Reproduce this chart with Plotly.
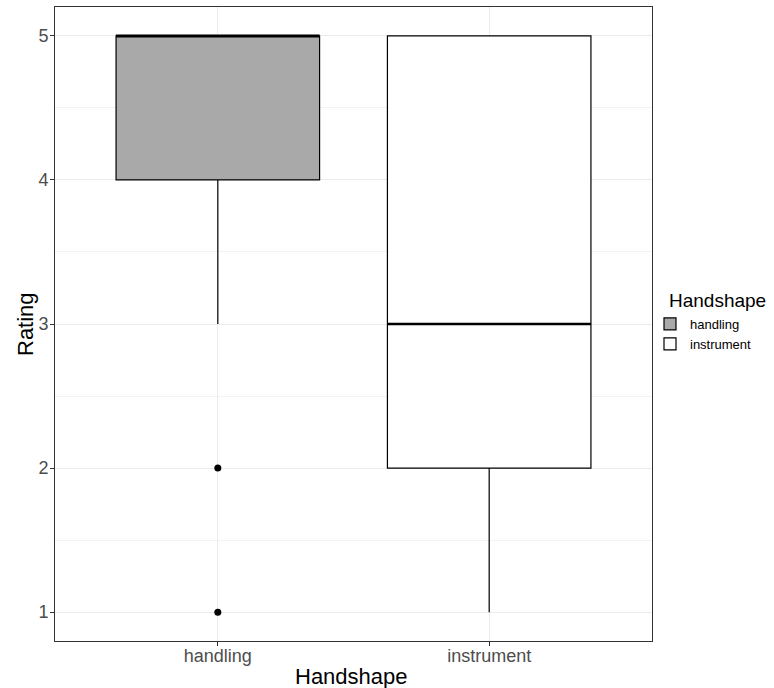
import plotly.graph_objects as go

categories = ["handling", "instrument"]
q1 = [4, 2]
median = [5, 3]
q3 = [5, 5]
lower = [3, 1]
upper = [5, 5]
fills = ["#A9A9A9", "#FFFFFF"]
outlier_cat = ["handling", "handling"]
outlier_val = [2, 1]
yticks = [1, 2, 3, 4, 5]

pos = {c: i + 1 for i, c in enumerate(categories)}
bw = 0.75

W, H = 774, 688
L, R, T, B = 55, 122, 7, 47
PW, PH = W - L - R, H - T - B

def px_x(p):
    return (p - L) / PW

def px_y(p):
    return (H - B - p) / PH

fig = go.Figure()
for i, c in enumerate(categories):
    fig.add_trace(go.Box(
        x=[pos[c]], q1=[q1[i]], median=[median[i]], q3=[q3[i]],
        lowerfence=[lower[i]], upperfence=[upper[i]],
        name=c, fillcolor=fills[i], line=dict(color="black", width=1.2),
        whiskerwidth=0, width=bw, boxpoints=False, showlegend=True,
    ))
    # thicker median line (ggplot fatten)
    fig.add_trace(go.Scatter(
        x=[pos[c] - bw / 2, pos[c] + bw / 2], y=[median[i], median[i]],
        mode="lines", line=dict(color="black", width=2.4),
        showlegend=False, hoverinfo="skip",
    ))

fig.add_trace(go.Scatter(
    x=[pos[c] for c in outlier_cat], y=outlier_val, mode="markers",
    marker=dict(color="black", size=7), showlegend=False,
))

# legend title
fig.add_annotation(
    text="Handshape", xref="paper", yref="paper",
    x=px_x(667), y=px_y(300), xanchor="left", yanchor="middle",
    showarrow=False, font=dict(size=19, color="black"),
)
# axis titles
fig.add_annotation(
    text="Handshape", xref="paper", yref="paper",
    x=px_x(351), y=px_y(676), xanchor="center", yanchor="middle",
    showarrow=False, font=dict(size=22, color="black"),
)
fig.add_annotation(
    text="Rating", xref="paper", yref="paper", textangle=-90,
    x=px_x(25), y=px_y(324), xanchor="center", yanchor="middle",
    showarrow=False, font=dict(size=22, color="black"),
)

fig.update_layout(
    template="none",
    width=W, height=H,
    margin=dict(l=L, r=R, t=T, b=B, autoexpand=False),
    paper_bgcolor="white", plot_bgcolor="white",
    font=dict(family="Liberation Sans, Arial, sans-serif"),
    showlegend=True,
    legend=dict(
        font=dict(size=13, color="black"),
        x=px_x(650), xanchor="left", y=px_y(334), yanchor="middle",
        tracegroupgap=0, bgcolor="rgba(0,0,0,0)", borderwidth=0,
    ),
    xaxis=dict(
        range=[0.4, 2.6], tickvals=[pos[c] for c in categories], ticktext=categories,
        showgrid=True, gridcolor="#EBEBEB", gridwidth=1.1,
        showline=True, mirror=True, linecolor="#333333", linewidth=1,
        ticks="outside", ticklen=4, tickcolor="#333333",
        tickfont=dict(size=18, color="#4D4D4D"), ticklabelstandoff=-6,
        zeroline=False, automargin=False,
    ),
    yaxis=dict(
        range=[0.8, 5.2], tickvals=yticks,
        showgrid=True, gridcolor="#EBEBEB", gridwidth=1.1,
        minor=dict(dtick=0.5, tick0=0.5, showgrid=True, gridcolor="#F2F2F2", gridwidth=0.6, ticks=""),
        showline=True, mirror=True, linecolor="#333333", linewidth=1,
        ticks="outside", ticklen=4, tickcolor="#333333",
        tickfont=dict(size=18, color="#4D4D4D"), ticklabelstandoff=-2,
        zeroline=False, automargin=False,
    ),
)

fig.write_html("out.html", config={"displayModeBar": False},
               post_script="document.body.style.margin='0';")
